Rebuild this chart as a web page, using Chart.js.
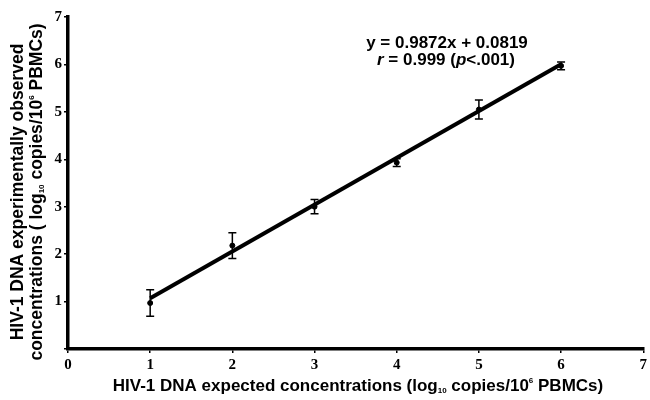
<!DOCTYPE html>
<html>
<head>
<meta charset="utf-8">
<script src="https://cdn.jsdelivr.net/npm/chart.js@4"></script>
<style>
  html, body { margin: 0; padding: 0; background: #fff; }
  #wrap { width: 650px; height: 400px; }
</style>
</head>
<body>
<div id="wrap"><canvas id="dnaChart"></canvas></div>
<script>
// expected concentration (x) vs observed concentration (y), log10 copies / 10^6 PBMCs
const expected = [1, 2, 3, 4, 5, 6];
const observed = [0.97, 2.18, 3.0, 3.93, 5.05, 5.97];
const errors = [0.28, 0.27, 0.15, 0.08, 0.2, 0.08];
const fitLine = [1.0691, 6.0051]; // y = 0.9872x + 0.0819 at x = 1 and x = 6
const fitX = [1, 6];
const axisTicks = [0, 1, 2, 3, 4, 5, 6, 7];
const equationText = "y = 0.9872x + 0.0819";

const titleFont = "bold 17px 'Liberation Sans', Arial, sans-serif";
const yTitleFont = "bold 17.5px 'Liberation Sans', Arial, sans-serif";
const smallFont = "bold 8px 'Liberation Sans', Arial, sans-serif";
const italicFont = "italic bold 17px 'Liberation Sans', Arial, sans-serif";
const tickFont = { family: "'Liberation Serif', 'Times New Roman', serif", size: 15, weight: "bold" };

// draw a line of text with sub/superscript parts, centred on (cx, cy)
function richText(ctx, parts, cx, cy, base) {
  base = base || titleFont;
  let total = 0;
  parts.forEach(function (p) {
    ctx.font = p[1] ? smallFont : (p[2] || base);
    total += ctx.measureText(p[0]).width;
  });
  let x = cx - total / 2;
  ctx.textBaseline = "middle";
  ctx.textAlign = "left";
  parts.forEach(function (p) {
    ctx.font = p[1] ? smallFont : (p[2] || base);
    let dy = 0;
    if (p[1] === "sub") dy = 5;
    if (p[1] === "sup") dy = -5;
    ctx.fillText(p[0], x, cy + dy);
    x += ctx.measureText(p[0]).width;
  });
}

const labelsPlugin = {
  id: "labels",
  afterDatasetsDraw(chart) {
    const ctx = chart.ctx;
    const xs = chart.scales.x;
    const ys = chart.scales.y;
    ctx.save();
    ctx.strokeStyle = "#000";
    ctx.lineWidth = 1.5;
    // error bars
    expected.forEach(function (v, i) {
      const px = xs.getPixelForValue(v);
      const top = ys.getPixelForValue(observed[i] + errors[i]);
      const bot = ys.getPixelForValue(observed[i] - errors[i]);
      ctx.beginPath();
      ctx.moveTo(px, top); ctx.lineTo(px, bot);
      ctx.moveTo(px - 4, top); ctx.lineTo(px + 4, top);
      ctx.moveTo(px - 4, bot); ctx.lineTo(px + 4, bot);
      ctx.stroke();
    });
    ctx.fillStyle = "#000";
    // equation
    richText(ctx, [[equationText]], 447, 43);
    richText(ctx, [["r", null, italicFont], [" = 0.999 (", null], ["p", null, italicFont], ["<.001)", null]], 446, 60);
    // x axis title
    richText(ctx, [["HIV-1 DNA expected concentrations (log"], ["10", "sub"], [" copies/10"], ["6", "sup"], [" PBMCs)"]], 358, 386);
    // y axis title
    ctx.save();
    ctx.translate(18, 192);
    ctx.rotate(-Math.PI / 2);
    richText(ctx, [["HIV-1 DNA experimentally observed"]], 0, 0, yTitleFont);
    ctx.restore();
    ctx.save();
    ctx.translate(37, 192);
    ctx.rotate(-Math.PI / 2);
    richText(ctx, [["concentrations ( log"], ["10", "sub"], [" copies/10"], ["6", "sup"], [" PBMCs)"]], 0, 0, yTitleFont);
    ctx.restore();
    ctx.restore();
  }
};

new Chart(document.getElementById("dnaChart"), {
  type: "scatter",
  data: {
    datasets: [
      {
        // regression line
        data: fitX.map(function (x, i) { return { x: x, y: fitLine[i] }; }),
        showLine: true,
        borderColor: "#000",
        borderWidth: 4,
        pointRadius: 0,
      },
      {
        // measured means
        data: expected.map(function (x, i) { return { x: x, y: observed[i] }; }),
        pointRadius: 2.5,
        backgroundColor: "#000",
        borderColor: "#000",
      },
    ],
  },
  options: {
    responsive: true,
    maintainAspectRatio: false,
    animation: false,
    layout: { padding: { top: 17, right: 5, left: 0, bottom: 0 } },
    plugins: { legend: { display: false }, tooltip: { enabled: false } },
    scales: {
      x: {
        type: "linear",
        min: 0,
        max: 7,
        afterFit: function (s) { s.height = 51; },
        afterBuildTicks: function (s) { s.ticks = axisTicks.map(function (v) { return { value: v }; }); },
        border: { color: "#000", width: 3.5 },
        grid: { drawOnChartArea: false, drawTicks: true, tickLength: 4, color: "#000", lineWidth: 1.5 },
        ticks: { color: "#000", font: tickFont, padding: 3 },
      },
      y: {
        type: "linear",
        min: 0,
        max: 7,
        afterFit: function (s) { s.width = 68; },
        afterBuildTicks: function (s) { s.ticks = axisTicks.map(function (v) { return { value: v }; }); },
        border: { color: "#000", width: 3.5 },
        grid: { drawOnChartArea: false, drawTicks: true, tickLength: 4, color: "#000", lineWidth: 1.5 },
        ticks: {
          color: "#000",
          font: tickFont,
          padding: 2,
          callback: function (v) { return v === 0 ? "" : v; },
        },
      },
    },
  },
  plugins: [labelsPlugin],
});
</script>
</body>
</html>
